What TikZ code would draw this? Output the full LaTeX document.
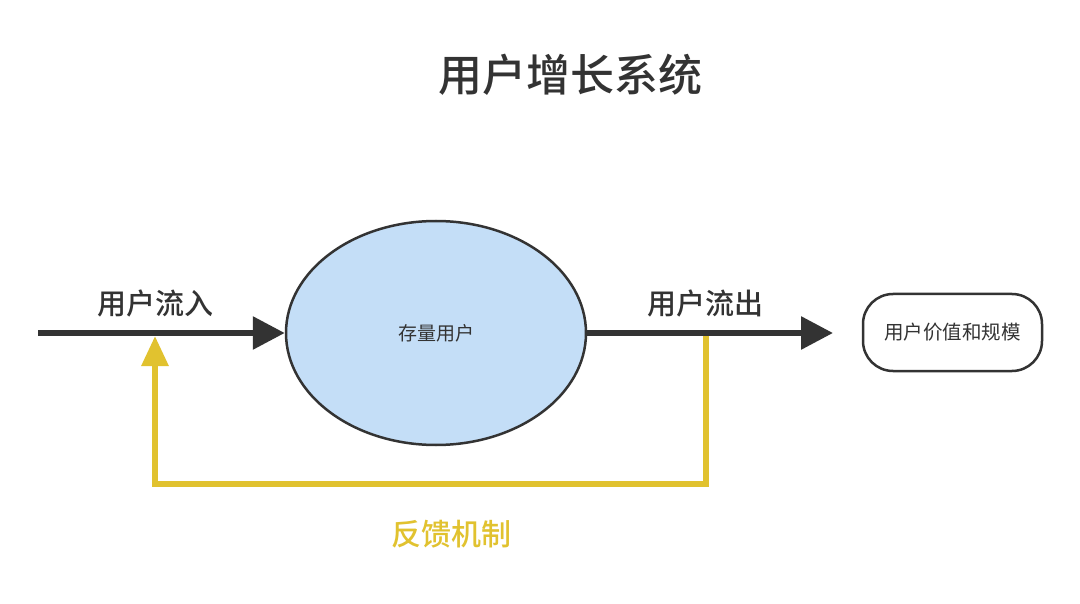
\documentclass[tikz,border=0pt]{standalone}
\usepackage{fontspec}
\setmainfont{Noto Sans CJK SC}
\newfontfamily\cjkm{Noto Sans CJK SC Medium}
\usetikzlibrary{arrows.meta,shapes.geometric}
\definecolor{dark}{HTML}{333333}
\definecolor{fb}{HTML}{E1C22F}
\definecolor{lblue}{HTML}{C4DEF7}
\tikzset{
  flow/.style={draw=dark,line width=6pt,-{Triangle[length=32pt,width=32pt]}},
  fbline/.style={draw=fb,line width=6pt,-{Triangle[length=30pt,width=26pt]}},
  lbl/.style={font=\cjkm\fontsize{29}{34}\selectfont,text=dark},
}
\begin{document}
\begin{tikzpicture}[x=1pt,y=-1pt]
\useasboundingbox[fill=white] (0,0) rectangle (1080,604);
\node[font=\cjkm\fontsize{44}{50}\selectfont,text=dark] (title) at (570,75) {用户增长系统};
\node[ellipse,draw=dark,line width=2.5pt,fill=lblue,minimum width=300pt,minimum height=224pt,inner sep=0pt,font=\fontsize{19}{22}\selectfont,text=dark] (pool) at (436,333) {存量用户};
\node[draw=dark,line width=2.5pt,rounded corners=30pt,minimum width=179pt,minimum height=77pt,font=\fontsize{19.5}{22}\selectfont,text=dark] (value) at (952.5,332.5) {用户价值和规模};
\coordinate (src) at (38,333);
\coordinate (out) at (833,333);
\draw[flow] (src) -- (pool.west);
\draw[flow] (pool.east) -- (out);
\node[lbl] (in) at (155,303) {用户流入};
\node[lbl] (outl) at (705,303) {用户流出};
\coordinate (fbstart) at (706,336);
\coordinate (fbend) at (155,336);
\draw[fbline,line join=miter] (fbstart) -- (706,484) -- (155,484) -- (fbend);
\node[font=\cjkm\fontsize{30}{34}\selectfont,text=fb] (fbl) at (451,534) {反馈机制};
\end{tikzpicture}
\end{document}
